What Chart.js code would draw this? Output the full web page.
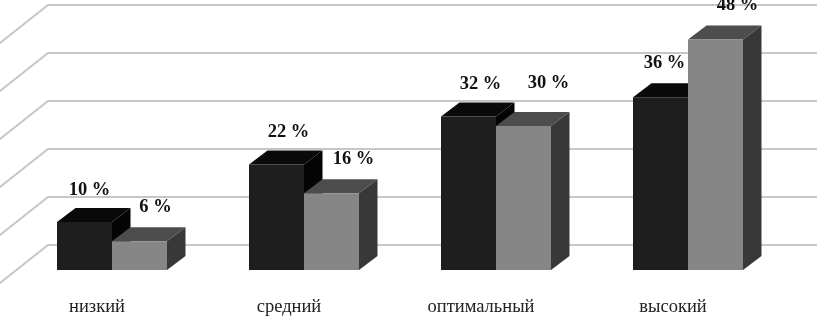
<!DOCTYPE html>
<html>
<head>
<meta charset="utf-8">
<script src="https://cdn.jsdelivr.net/npm/chart.js@4"></script>
<style>
  html, body { margin: 0; padding: 0; background: #fff; }
  canvas { display: block; }
</style>
</head>
<body>
<canvas id="chart" width="817" height="316"></canvas>
<script>
// Data
const categories = ['низкий', 'средний', 'оптимальный', 'высокий'];
const seriesDark = [10, 22, 32, 36];
const seriesGrey = [6, 16, 30, 48];

// Look of the 3D boxes
const depthX = 18.5;
const depthY = 14;
const floorGap = 25; // back wall sits this far above the bars' front edge
const darkColors = { front: '#1e1e1e', top: '#0a0a0a', side: '#040404' };
const greyColors = { front: '#868686', top: '#4d4d4d', side: '#383838' };

// Nudges of the value labels from the top centre of each bar
const darkLabelShift = [[5, -32], [12, -32], [12, -32], [4, -34]];
const greyLabelShift = [[16, -34], [22, -34], [25, -43], [22, -34]];

function fillPoly(ctx, color, pts) {
  ctx.fillStyle = color;
  ctx.beginPath();
  ctx.moveTo(pts[0][0], pts[0][1]);
  for (let i = 1; i < pts.length; i++) ctx.lineTo(pts[i][0], pts[i][1]);
  ctx.closePath();
  ctx.fill();
}

// Back wall lines with the slanted piece running off to the left
const wallGrid = {
  id: 'wallGrid',
  beforeDatasetsDraw(chart) {
    const ctx = chart.ctx;
    const y = chart.scales.y;
    ctx.save();
    ctx.strokeStyle = '#c6c6c6';
    ctx.lineWidth = 2;
    y.ticks.forEach(t => {
      const py = y.getPixelForValue(t.value) - floorGap;
      ctx.beginPath();
      ctx.moveTo(-5, py + 42);
      ctx.lineTo(48, py);
      ctx.lineTo(817, py);
      ctx.stroke();
    });
    ctx.restore();
  }
};

// Top and side faces, the front faces are the library's own bars
const boxFaces = {
  id: 'boxFaces',
  beforeDatasetsDraw(chart) {
    const ctx = chart.ctx;
    ctx.save();
    [darkColors, greyColors].forEach((colors, d) => {
      chart.getDatasetMeta(d).data.forEach(bar => {
        const l = bar.x - bar.width / 2;
        const r = bar.x + bar.width / 2;
        fillPoly(ctx, colors.top, [[l, bar.y], [l + depthX, bar.y - depthY], [r + depthX, bar.y - depthY], [r, bar.y]]);
        fillPoly(ctx, colors.side, [[r, bar.y], [r + depthX, bar.y - depthY], [r + depthX, bar.base - depthY], [r, bar.base]]);
      });
    });
    ctx.restore();
  }
};

const valueLabels = {
  id: 'valueLabels',
  afterDatasetsDraw(chart) {
    const ctx = chart.ctx;
    const shifts = [darkLabelShift, greyLabelShift];
    ctx.save();
    ctx.font = 'bold 18.5px "Liberation Serif"';
    ctx.fillStyle = '#111';
    ctx.textAlign = 'center';
    ctx.textBaseline = 'middle';
    chart.data.datasets.forEach((ds, d) => {
      chart.getDatasetMeta(d).data.forEach((bar, i) => {
        ctx.fillText(ds.data[i] + ' %', bar.x + shifts[d][i][0], bar.y + shifts[d][i][1]);
      });
    });
    ctx.restore();
  }
};

new Chart(document.getElementById('chart').getContext('2d'), {
  type: 'bar',
  data: {
    labels: categories,
    datasets: [
      { data: seriesDark, backgroundColor: darkColors.front },
      { data: seriesGrey, backgroundColor: greyColors.front }
    ]
  },
  options: {
    responsive: false,
    animation: false,
    categoryPercentage: 110 / 192,
    barPercentage: 1,
    layout: { padding: { left: 16, right: 33, top: 30, bottom: 0 } },
    plugins: { legend: { display: false }, tooltip: { enabled: false } },
    scales: {
      x: {
        grid: { display: false },
        border: { display: false },
        afterFit(scale) { scale.height = 46; },
        ticks: {
          autoSkip: false,
          maxRotation: 0,
          labelOffset: -15,
          padding: 18,
          color: '#222',
          font: { family: '"Liberation Serif"', size: 18.5 }
        }
      },
      y: {
        display: false,
        min: 0,
        max: 50,
        ticks: { stepSize: 10 }
      }
    }
  },
  plugins: [wallGrid, boxFaces, valueLabels]
});
</script>
</body>
</html>
